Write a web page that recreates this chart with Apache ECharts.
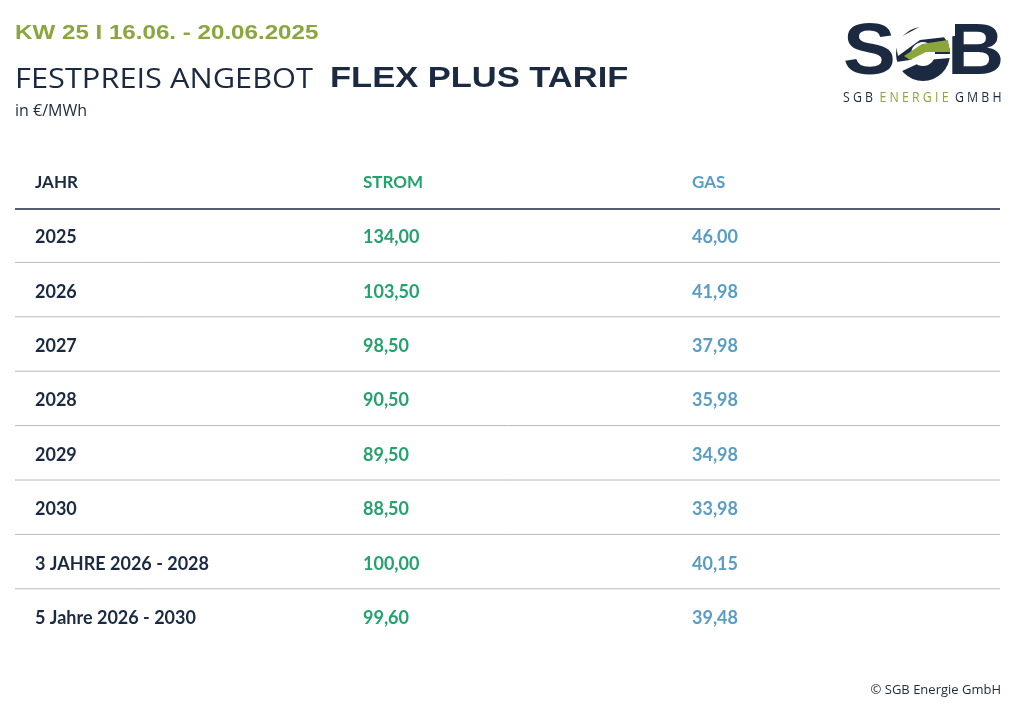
<!DOCTYPE html>
<html><head><meta charset="utf-8">
<script src="https://cdn.jsdelivr.net/npm/echarts@6/dist/echarts.min.js"></script>
<style>html,body{margin:0;padding:0;background:#fff}#c{width:1024px;height:714px}</style>
</head><body><div id="c"></div>
<script>
const headers = ['JAHR','STROM','GAS'];
const years = ['2025','2026','2027','2028','2029','2030','3 JAHRE 2026 - 2028','5 Jahre 2026 - 2030'];
const strom = ['134,00','103,50','98,50','90,50','89,50','88,50','100,00','99,60'];
const gas = ['46,00','41,98','37,98','35,98','34,98','33,98','40,15','39,48'];

const NAVY='#1b2a41', GREEN='#8aa63c', SG='#24a26c', GB='#5a9dc4';
const F='Lato, "Open Sans", sans-serif';
const colX=[35,363,692], headY=183, step=54.4;
const g=[];
const txt=(x,y,t,fill,size,weight,family,align,sx)=>g.push({type:'text',x,y,scaleX:sx||1,style:{text:t,fill,font:`${weight} ${size}px ${family||F}`,textAlign:align||'left',textVerticalAlign:'middle'}});
txt(15,33,'KW 25 I 16.06. - 20.06.2025',GREEN,21,'bold','"Liberation Sans", Arial','left',1.15);
txt(15,80,'FESTPREIS ANGEBOT',NAVY,28,'normal','"Open Sans", sans-serif','left',1.1);
txt(330,79,'FLEX PLUS TARIF',NAVY,30,'900','"Liberation Sans", Arial','left',1.15);
txt(15,111,'in €/MWh',NAVY,16,'normal','"Open Sans", sans-serif');
// logo
txt(843,54,'S',NAVY,72,'900','"Liberation Sans", Arial','left',1.1);
txt(947,54,'B',NAVY,72,'900','"Liberation Sans", Arial','left',1.1);
g.push({type:'circle',shape:{cx:923,cy:54,r:27},style:{fill:NAVY}});
g.push({type:'circle',shape:{cx:923,cy:54,r:12},style:{fill:'#fff'}});
g.push({type:'polygon',shape:{points:[[895,40],[925,24],[955,24],[955,36],[920,40],[898,56]]},style:{fill:'#fff'}});
g.push({type:'polygon',shape:{points:[[904,56],[922,44],[948,40],[950,52],[926,52],[910,60]]},style:{fill:GREEN}});
g.push({type:'polygon',shape:{points:[[896,62],[910,60],[926,54],[950,54],[950,58],[926,60],[900,72]]},style:{fill:'#fff'}});
g.push({type:'text',x:843,y:98,style:{rich:{a:{fill:NAVY,font:'normal 14px "Open Sans", sans-serif'},b:{fill:GREEN,font:'normal 14px "Open Sans", sans-serif'}},text:'{a|S G B  }{b|E N E R G I E  }{a|G M B H}',textVerticalAlign:'middle'},scaleX:0.88});
// table
const hc=[NAVY,SG,GB];
headers.forEach((h,i)=>txt(colX[i],headY,h,hc[i],17,'bold'));
g.push({type:'line',shape:{x1:15,y1:209,x2:1000,y2:209},style:{stroke:NAVY,lineWidth:1.5}});
years.forEach((y,r)=>{
  const cy=headY+step*(r+1);
  txt(colX[0],cy,y,NAVY,18,'bold');
  txt(colX[1],cy,strom[r],SG,18,'bold');
  txt(colX[2],cy,gas[r],GB,18,'bold');
  if(r<years.length-1) g.push({type:'line',shape:{x1:15,y1:cy+25,x2:1000,y2:cy+25},style:{stroke:'#b8b8b8',lineWidth:1}});
});
txt(1001,690,'© SGB Energie GmbH',NAVY,13,'normal','"Open Sans", sans-serif','right');
const chart=echarts.init(document.getElementById('c'));
chart.setOption({animation:false,graphic:g});
</script></body></html>
